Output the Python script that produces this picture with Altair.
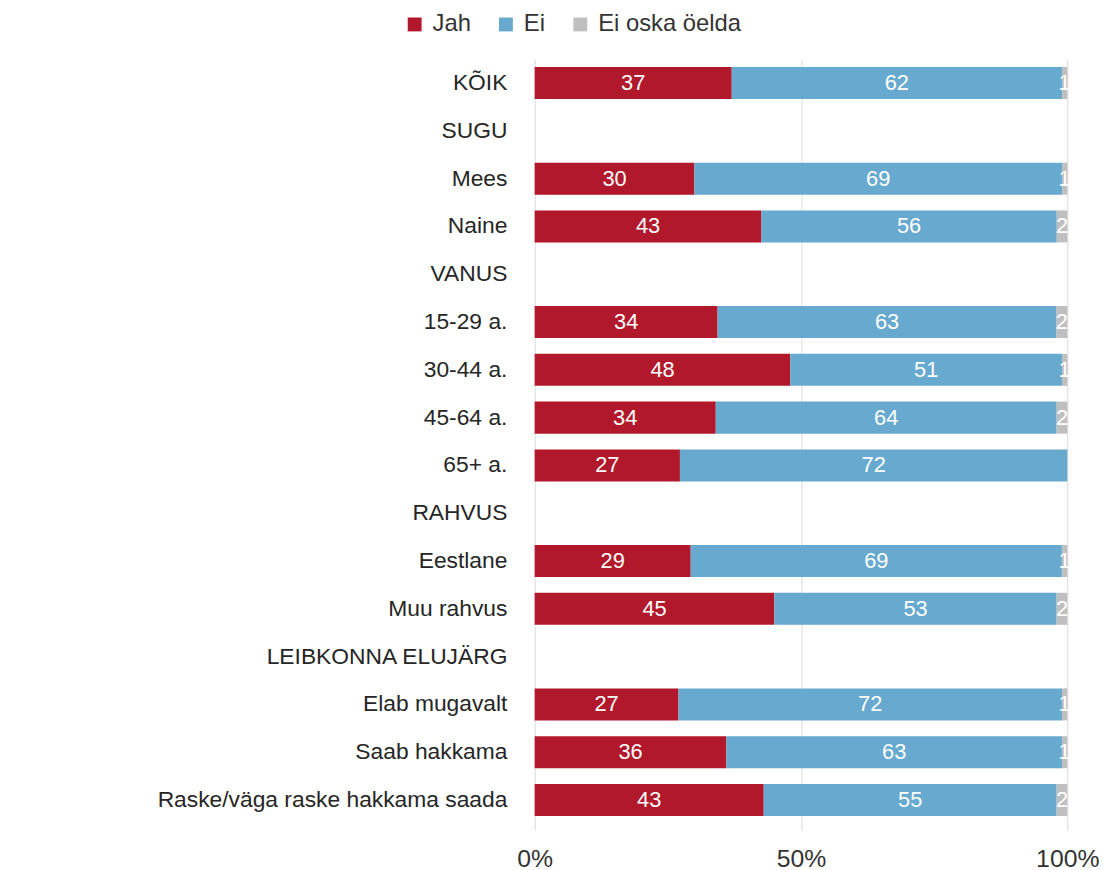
import altair as alt
import pandas as pd

categories = ["KÕIK ", "SUGU", "Mees", "Naine", "VANUS", "15-29 a.", "30-44 a.",
              "45-64 a.", "65+ a.", "RAHVUS", "Eestlane", "Muu rahvus",
              "LEIBKONNA ELUJÄRG", "Elab mugavalt", "Saab hakkama",
              "Raske/väga raske hakkama saada"]
jah = [37, None, 30, 43, None, 34, 48, 34, 27, None, 29, 45, None, 27, 36, 43]
ei = [62, None, 69, 56, None, 63, 51, 64, 72, None, 69, 53, None, 72, 63, 55]
eos = [1, None, 1, 2, None, 2, 1, 2, 0, None, 1, 2, None, 1, 1, 2]

series = ["Jah", "Ei", "Ei oska öelda"]
colors = ["#B2182B", "#67A9CF", "#BFBFBF"]

rows = []
for i, c in enumerate(categories):
    for k, (name, vals) in enumerate(zip(series, [jah, ei, eos])):
        v = vals[i]
        if v is None:
            continue
        rows.append({"cat": c, "series": name, "order": k, "value": v})
df = pd.DataFrame(rows)

FONT = "Liberation Sans"

base = alt.Chart(df).transform_stack(
    stack="value", groupby=["cat"], as_=["v0", "v1"], offset="normalize",
    sort=[alt.SortField("order", order="ascending")]
).transform_calculate(mid="(datum.v0 + datum.v1) / 2")

yenc = alt.Y("cat:N", scale=alt.Scale(domain=categories, paddingInner=0.33, paddingOuter=0.165),
             axis=alt.Axis(title=None, labelFontSize=23, labelFont=FONT, labelColor="#262626",
                           labelPadding=28, ticks=False, domain=False, minExtent=526,
                           labelLimit=600))

bars = base.mark_bar().encode(
    x=alt.X("v0:Q", scale=alt.Scale(domain=[0, 1], nice=False),
            axis=alt.Axis(title=None, format="%", values=[0, 0.5, 1], labelFontSize=25,
                          labelFont=FONT, labelColor="#333333", grid=True, gridColor="#D9D9D9",
                          tickColor="#D9D9D9", tickSize=6, labelPadding=17, domain=False,
                          labelFlush=False)),
    x2="v1:Q",
    y=yenc,
    color=alt.Color("series:N", scale=alt.Scale(domain=series, range=colors),
                    legend=alt.Legend(title=None, orient="none", direction="horizontal",
                                      legendX=-133, legendY=-47, symbolType="square",
                                      symbolSize=196, symbolStrokeWidth=0,
                                      labelFontSize=24, labelFont=FONT, labelColor="#333333",
                                      columnPadding=23, symbolOffset=0, labelOffset=6)),
)

labels = base.transform_filter("datum.value > 0").mark_text(
    color="white", fontSize=22, font=FONT
).encode(
    x=alt.X("mid:Q"),
    y=alt.Y("cat:N", scale=alt.Scale(domain=categories)),
    text=alt.Text("value:Q"),
)

chart = alt.layer(bars, labels).properties(
    width=537, height=771,
    padding={"left": 5, "top": 1, "right": 5, "bottom": 5}
).configure_view(stroke=None)

chart.save("out.html", embed_options={"renderer": "svg", "actions": False})
